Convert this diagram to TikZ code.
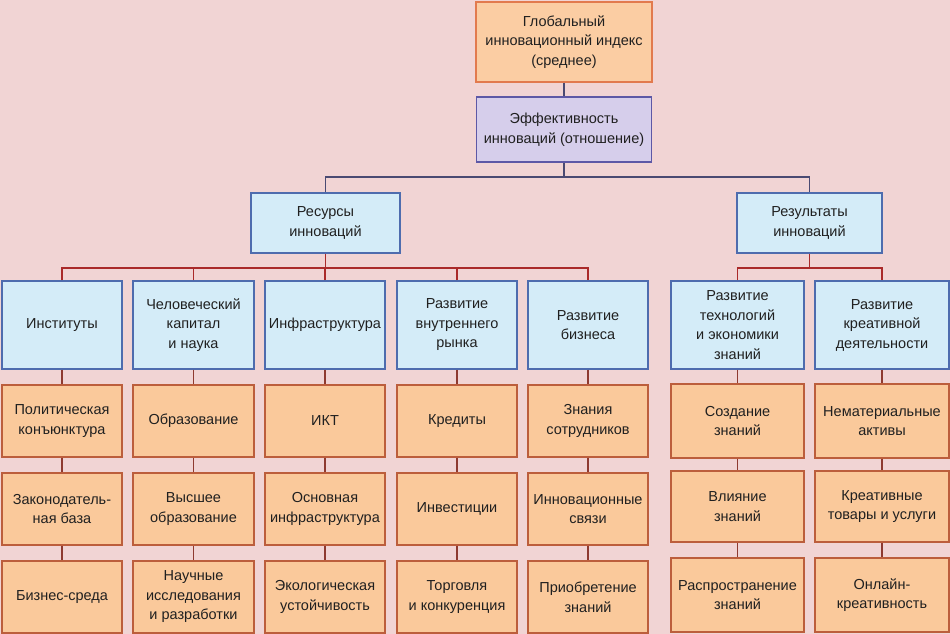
\documentclass[tikz,border=0pt]{standalone}
\usepackage{fontspec}
\setmainfont{Liberation Sans}
\definecolor{bgc}{HTML}{F1D4D4}
\definecolor{orf}{HTML}{FAC99B}
\definecolor{ord}{HTML}{BC5E3C}
\definecolor{topd}{HTML}{E27A4E}
\definecolor{topf}{HTML}{FBCDA3}
\definecolor{blf}{HTML}{D4ECF8}
\definecolor{bld}{HTML}{4E6CAE}
\definecolor{puf}{HTML}{D6CEEB}
\definecolor{pud}{HTML}{5D58A6}
\definecolor{dkl}{HTML}{4A4A72}
\definecolor{rdl}{HTML}{AA2A2A}
\definecolor{brl}{HTML}{8E3A30}
\definecolor{txt}{HTML}{202020}
\begin{document}
\begin{tikzpicture}[x=1pt,y=-1pt,
  box/.style={draw, line width=1.2pt, align=center, inner sep=2pt, text=txt,
    font=\fontsize{14.5}{19.5}\selectfont},
  obox/.style={box, fill=orf, draw=ord},
  bbox/.style={box, fill=blf, draw=bld},
  dkc/.style={draw=dkl, line width=1.2pt},
  rdc/.style={draw=rdl, line width=1.2pt},
  brc/.style={draw=brl, line width=1.2pt}]
\fill[bgc] (0,0) rectangle (950,634);
\useasboundingbox (0,0) rectangle (950,634);
% top
\node[box, fill=topf, draw=topd, minimum width=176pt, minimum height=80pt] (g) at (564,42) {Глобальный\\инновационный индекс\\(среднее)};
\node[box, fill=puf, draw=pud, minimum width=175pt, minimum height=65pt] (e) at (564,129.5) {Эффективность\\инноваций (отношение)};
\node[bbox, minimum width=149pt, minimum height=60pt] (r) at (325.5,223) {Ресурсы\\инноваций};
\node[bbox, minimum width=145pt, minimum height=60pt] (s) at (809.5,223) {Результаты\\инноваций};
% blue row
\node[bbox, minimum width=120pt, minimum height=88pt] (c1) at (62,325) {Институты};
\node[bbox, minimum width=121pt, minimum height=88pt] (c2) at (193.5,325) {Человеческий\\капитал\\и наука};
\node[bbox, minimum width=120pt, minimum height=88pt] (c3) at (325,325) {Инфраструктура};
\node[bbox, minimum width=120pt, minimum height=88pt] (c4) at (457,325) {Развитие\\внутреннего\\рынка};
\node[bbox, minimum width=120pt, minimum height=88pt] (c5) at (588,325) {Развитие\\бизнеса};
\node[bbox, minimum width=133pt, minimum height=88pt] (c6) at (737.5,325) {Развитие\\технологий\\и экономики\\знаний};
\node[bbox, minimum width=134pt, minimum height=88pt] (c7) at (882,325) {Развитие\\креативной\\деятельности};
% orange rows, left
\node[obox, minimum width=120pt, minimum height=72pt] (a1) at (62,421) {Политическая\\конъюнктура};
\node[obox, minimum width=120pt, minimum height=72pt] (a2) at (62,509) {Законодатель-\\ная база};
\node[obox, minimum width=120pt, minimum height=72pt] (a3) at (62,597) {Бизнес-среда};
\node[obox, minimum width=121pt, minimum height=72pt] (b1) at (193.5,421) {Образование};
\node[obox, minimum width=121pt, minimum height=72pt] (b2) at (193.5,509) {Высшее\\образование};
\node[obox, minimum width=121pt, minimum height=72pt] (b3) at (193.5,597) {Научные\\исследования\\и разработки};
\node[obox, minimum width=120pt, minimum height=72pt] (d1) at (325,421) {ИКТ};
\node[obox, minimum width=120pt, minimum height=72pt] (d2) at (325,509) {Основная\\инфраструктура};
\node[obox, minimum width=120pt, minimum height=72pt] (d3) at (325,597) {Экологическая\\устойчивость};
\node[obox, minimum width=120pt, minimum height=72pt] (f1) at (457,421) {Кредиты};
\node[obox, minimum width=120pt, minimum height=72pt] (f2) at (457,509) {Инвестиции};
\node[obox, minimum width=120pt, minimum height=72pt] (f3) at (457,597) {Торговля\\и конкуренция};
\node[obox, minimum width=120pt, minimum height=72pt] (h1) at (588,421) {Знания\\сотрудников};
\node[obox, minimum width=120pt, minimum height=72pt] (h2) at (588,509) {Инновационные\\связи};
\node[obox, minimum width=120pt, minimum height=72pt] (h3) at (588,597) {Приобретение\\знаний};
% orange rows, right
\node[obox, minimum width=133pt, minimum height=74pt] (k1) at (737.5,421) {Создание\\знаний};
\node[obox, minimum width=133pt, minimum height=71pt] (k2) at (737.5,506.5) {Влияние\\знаний};
\node[obox, minimum width=133pt, minimum height=74pt] (k3) at (737.5,595) {Распространение\\знаний};
\node[obox, minimum width=134pt, minimum height=74pt] (m1) at (882,421) {Нематериальные\\активы};
\node[obox, minimum width=134pt, minimum height=71pt] (m2) at (882,506.5) {Креативные\\товары и услуги};
\node[obox, minimum width=134pt, minimum height=74pt] (m3) at (882,595) {Онлайн-\\креативность};
% connectors top
\coordinate (j1) at (564,177);
\coordinate (j2) at (325.5,268);
\coordinate (j3) at (809.5,268);
\draw[dkc] (g.south) -- (e.north);
\draw[dkc] (e.south) -- (j1);
\draw[dkc] (r.north) |- (j1) -| (s.north);
% red
\draw[rdc] (r.south) -- (j2);
\draw[rdc] (c1.north) |- (j2) -| (c5.north);
\draw[rdc] (c2.north) -- (c2.north |- j2);
\draw[rdc] (c3.north) -- (c3.north |- j2);
\draw[rdc] (c4.north) -- (c4.north |- j2);
\draw[rdc] (s.south) -- (j3);
\draw[rdc] (c6.north) |- (j3) -| (c7.north);
% brown
\foreach \c/\p/\q/\r in {c1/a1/a2/a3, c2/b1/b2/b3, c3/d1/d2/d3, c4/f1/f2/f3, c5/h1/h2/h3, c6/k1/k2/k3, c7/m1/m2/m3}{
  \draw[brc] (\c.south) -- (\p.north);
  \draw[brc] (\p.south) -- (\q.north);
  \draw[brc] (\q.south) -- (\r.north);
}
\end{tikzpicture}
\end{document}
